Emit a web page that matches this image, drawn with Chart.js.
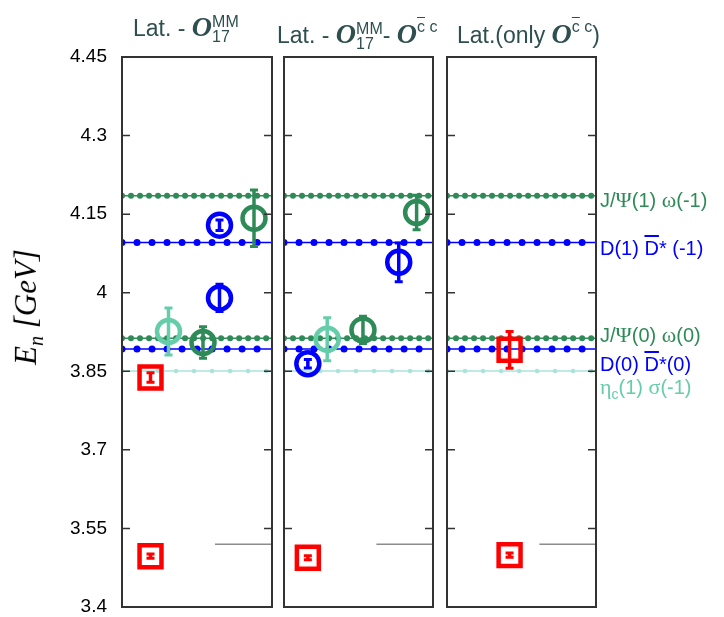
<!DOCTYPE html>
<html>
<head>
<meta charset="utf-8">
<script src="https://cdn.jsdelivr.net/npm/chart.js@4.4.0/dist/chart.umd.min.js"></script>
<style>
  body { margin: 0; background: #fff; }
  #wrap { position: relative; width: 724px; height: 617px; font-family: "Liberation Sans", Arial, sans-serif; }
  canvas { position: absolute; top: 0; }
  .title { position: absolute; top: 12px; color: #2f4f4f; font-size: 23px; white-space: nowrap; line-height: 30px; }
  .op { font-family: "Liberation Serif", serif; font-style: italic; font-weight: bold; font-size: 28px; }
  .ss { display: inline-flex; flex-direction: column; font-size: 16px; line-height: 15px; vertical-align: 9px; }
  .sup { font-size: 16px; vertical-align: 11px; }
  .bar { text-decoration: overline; }
  .ylab { position: absolute; left: 28px; top: 307px; transform: translate(-50%, -50%) rotate(-90deg);
          font-family: "Liberation Serif", serif; font-style: italic; font-size: 31px; white-space: nowrap; }
  .ylab sub { font-size: 20px; }
  .thr { position: absolute; left: 600px; font-size: 20px; line-height: 20px; white-space: nowrap; }
  .gk { font-family: "Liberation Serif", serif; font-size: 22px; }
</style>
</head>
<body>
<div id="wrap">
  <canvas id="c1" width="280" height="617" style="left:0px"></canvas>
  <canvas id="c2" width="166" height="617" style="left:276px"></canvas>
  <canvas id="c3" width="165" height="617" style="left:439px"></canvas>

  <div class="title" style="left:133px">Lat. - <span class="op">O</span><span class="ss"><span>MM</span><span>17</span></span></div>
  <div class="title" style="left:277px">Lat. - <span class="op">O</span><span class="ss"><span>MM</span><span>17</span></span>- <span class="op">O</span><span class="sup"><span class="bar">c</span> c</span></div>
  <div class="title" style="left:457px">Lat.(only <span class="op">O</span><span class="sup"><span class="bar">c</span> c</span>)</div>

  <div class="ylab">E<sub>n</sub> [GeV]</div>

  <div class="thr" style="top:190px;color:#2e8b57">J/<span class="gk">Ψ</span>(1) <span class="gk">ω</span>(-1)</div>
  <div class="thr" style="top:238px;color:#0000ff">D(1) <span class="bar">D</span>* (-1)</div>
  <div class="thr" style="top:325px;color:#2e8b57">J/<span class="gk">Ψ</span>(0) <span class="gk">ω</span>(0)</div>
  <div class="thr" style="top:354px;color:#0000ff">D(0) <span class="bar">D</span>*(0)</div>
  <div class="thr" style="top:377px;color:#66cdaa"><span class="gk">η</span><sub style="font-size:14px">c</sub>(1) <span class="gk">σ</span>(-1)</div>
</div>

<script>
// y axis
const yTicks = [3.4, 3.55, 3.7, 3.85, 4, 4.15, 4.3, 4.45];

// two-particle thresholds (GeV)
const thrE = [4.185, 4.096, 3.913, 3.8925, 3.8505];
const thrKind = ['green', 'blue', 'green', 'blue', 'aqua'];

// grey reference line
const refE = 3.52;
const refFrom = 0.62;

// panel 1: Lat. - O17MM
const p1X = [0.19, 0.19, 0.31, 0.54, 0.65, 0.65, 0.88];
const p1E = [3.497, 3.838, 3.926, 3.905, 3.990, 4.129, 4.142];
const p1Err = [0.004, 0.009, 0.045, 0.03, 0.026, 0.01, 0.054];
const p1Kind = ['red', 'red', 'aqua', 'green', 'blue', 'blue', 'green'];

// panel 2: Lat. - O17MM - Occ
const p2X = [0.16, 0.16, 0.29, 0.53, 0.77, 0.89];
const p2E = [3.494, 3.8645, 3.911, 3.929, 4.058, 4.153];
const p2Err = [0.004, 0.008, 0.041, 0.026, 0.037, 0.033];
const p2Kind = ['red', 'blue', 'aqua', 'green', 'blue', 'green'];

// panel 3: Lat.(only Occ)
const p3X = [0.42, 0.42];
const p3E = [3.499, 3.891];
const p3Err = [0.004, 0.035];
const p3Kind = ['red', 'red'];

const colors = {
  red: '#ff0000',
  blue: '#0000ff',
  green: '#2e8b57',
  aqua: '#66cdaa',
  aquaLine: '#a8e4da',
  frame: '#333333',
  ref: '#8c8c8c'
};

// dotted threshold style: dot size and spacing
const dotStyle = {
  green: { color: colors.green, size: 6, gap: 9 },
  blue: { color: colors.blue, size: 7, gap: 15 },
  aqua: { color: colors.aquaLine, size: 4.5, gap: 18 }
};

const errorBars = {
  id: 'errorBars',
  afterDatasetsDraw(chart) {
    const { ctx } = chart;
    const xs = chart.scales.x, ys = chart.scales.y;
    chart.data.datasets.forEach(ds => {
      if (!ds.errors) return;
      ctx.save();
      ctx.strokeStyle = ds.borderColor;
      ds.data.forEach((p, j) => {
        const x = xs.getPixelForValue(p.x);
        const top = ys.getPixelForValue(p.y + ds.errors[j]);
        const bot = ys.getPixelForValue(p.y - ds.errors[j]);
        ctx.lineWidth = 3.5;
        ctx.beginPath();
        ctx.moveTo(x, top);
        ctx.lineTo(x, bot);
        ctx.stroke();
        ctx.lineWidth = 3;
        ctx.beginPath();
        ctx.moveTo(x - 4, top); ctx.lineTo(x + 4, top);
        ctx.moveTo(x - 4, bot); ctx.lineTo(x + 4, bot);
        ctx.stroke();
      });
      ctx.restore();
    });
  }
};

const frame = {
  id: 'frame',
  afterDraw(chart) {
    const { ctx, chartArea: a } = chart;
    const ys = chart.scales.y;
    ctx.save();
    ctx.strokeStyle = colors.frame;
    ctx.lineWidth = 1.5;
    yTicks.forEach(v => {
      const y = ys.getPixelForValue(v);
      ctx.beginPath();
      ctx.moveTo(a.left, y); ctx.lineTo(a.left + 8, y);
      ctx.moveTo(a.right, y); ctx.lineTo(a.right - 8, y);
      ctx.stroke();
    });
    ctx.lineWidth = 2;
    ctx.strokeRect(a.left, a.top, a.right - a.left, a.bottom - a.top);
    ctx.restore();
  }
};

function pointSets(xs, es, errs, kinds) {
  const out = [];
  ['red', 'blue', 'green', 'aqua'].forEach(k => {
    const idx = kinds.map((kk, i) => kk === k ? i : -1).filter(i => i >= 0);
    if (!idx.length) return;
    out.push({
      type: 'scatter',
      data: idx.map(i => ({ x: xs[i], y: es[i] })),
      errors: idx.map(i => errs[i]),
      borderColor: colors[k],
      backgroundColor: 'transparent',
      pointStyle: k === 'red' ? 'rect' : 'circle',
      pointRadius: k === 'red' ? 15.5 : 11.5,
      borderWidth: 4.5,
      order: 1
    });
  });
  return out;
}

function thresholdSets() {
  const out = [];
  thrE.forEach((e, i) => {
    const st = dotStyle[thrKind[i]];
    const line = [{ x: 0, y: e }, { x: 1, y: e }];
    out.push({
      type: 'line', data: line, borderColor: st.color, borderWidth: st.size,
      borderDash: [0.01, st.gap], borderCapStyle: 'round', pointRadius: 0, order: 5
    });
    out.push({
      type: 'line', data: line, borderColor: st.color, borderWidth: 1.5,
      pointRadius: 0, order: 6
    });
  });
  out.push({
    type: 'line', data: [{ x: refFrom, y: refE }, { x: 1, y: refE }],
    borderColor: colors.ref, borderWidth: 1.5, pointRadius: 0, order: 6
  });
  return out;
}

function makePanel(id, xs, es, errs, kinds, withAxis, pad) {
  const yScale = {
    type: 'linear', min: 3.4, max: 4.45, display: withAxis,
    afterBuildTicks: axis => { axis.ticks = yTicks.map(v => ({ value: v })); },
    // invisible tick marks give the gap between labels and the frame
    grid: { drawOnChartArea: false, drawTicks: true, tickLength: 15, color: 'transparent' },
    border: { display: false },
    ticks: {
      padding: 0,
      color: '#000',
      font: { family: '"Liberation Sans", Arial, sans-serif', size: 19, lineHeight: 1 },
      callback: v => String(+Number(v).toFixed(2))
    }
  };
  if (withAxis) yScale.afterFit = axis => { axis.width = 122; };

  return new Chart(document.getElementById(id), {
    type: 'scatter',
    data: { datasets: [...pointSets(xs, es, errs, kinds), ...thresholdSets()] },
    options: {
      responsive: false,
      animation: false,
      events: [],
      layout: { autoPadding: false, padding: { left: pad[0], right: pad[1], top: 57, bottom: 10 } },
      plugins: { legend: { display: false }, tooltip: { enabled: false } },
      scales: {
        x: { type: 'linear', min: 0, max: 1, display: false },
        y: yScale
      }
    },
    plugins: [errorBars, frame]
  });
}

makePanel('c1', p1X, p1E, p1Err, p1Kind, true, [0, 8]);
makePanel('c2', p2X, p2E, p2Err, p2Kind, false, [8, 9]);
makePanel('c3', p3X, p3E, p3Err, p3Kind, false, [8, 8]);
</script>
</body>
</html>
